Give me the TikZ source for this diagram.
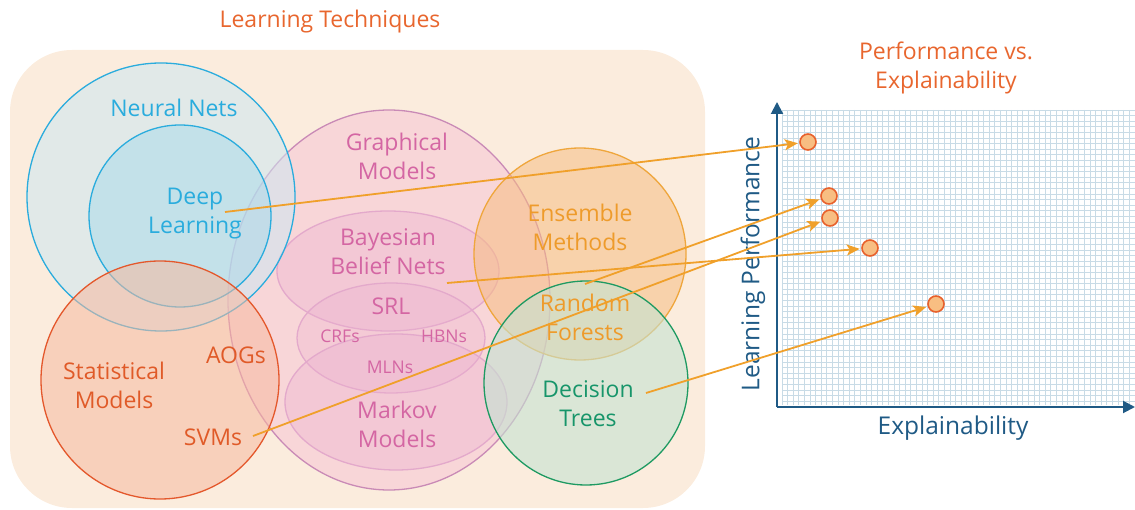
\documentclass[tikz,border=0pt]{standalone}
\usepackage{fontspec}
\setmainfont{Open Sans}
\usetikzlibrary{arrows.meta}
\definecolor{bgpeach}{HTML}{FBECDD}
\definecolor{nnstroke}{HTML}{2AACDD}
\definecolor{nnfill}{HTML}{CDE8F2}
\definecolor{dlfill}{HTML}{A6DAEB}
\definecolor{gmstroke}{HTML}{C98AB6}
\definecolor{gmfill}{HTML}{F6C8D6}
\definecolor{subfill}{HTML}{EBB0D0}
\definecolor{substroke}{HTML}{E3A9CB}
\definecolor{pinktext}{HTML}{D466A3}
\definecolor{ststroke}{HTML}{E4582C}
\definecolor{stfill}{HTML}{F7B9A0}
\definecolor{sttext}{HTML}{E05A28}
\definecolor{enstroke}{HTML}{EFA63C}
\definecolor{enfill}{HTML}{F7BE82}
\definecolor{entext}{HTML}{EE9B2B}
\definecolor{dtstroke}{HTML}{1E9A62}
\definecolor{dtfill}{HTML}{C4E3D2}
\definecolor{dttext}{HTML}{17956A}
\definecolor{titleorange}{HTML}{E8662E}
\definecolor{axisblue}{HTML}{1F5A85}
\definecolor{gridblue}{HTML}{C8DBE6}
\definecolor{arroworange}{HTML}{F0A02A}
\definecolor{dotfill}{HTML}{F8BE82}
\definecolor{dotstroke}{HTML}{E8612C}
\tikzset{
  lbl/.style={font=\fontsize{23}{29}\selectfont, align=center, inner sep=0pt},
  smalllbl/.style={font=\fontsize{17.5}{20}\selectfont, align=center, inner sep=0pt, text=pinktext},
  axislbl/.style={font=\fontsize{24.5}{29}\selectfont, inner sep=0pt, text=axisblue},
  dot/.style={circle, draw=dotstroke, fill=dotfill, line width=1.6pt, minimum size=16pt, inner sep=0pt},
  link/.style={draw=arroworange, line width=1.8pt, -{Stealth[length=13pt,width=11pt,inset=3pt]}, shorten >=1.5pt},
  axis/.style={draw=axisblue, line width=2pt, -{Triangle[length=12pt,width=12pt]}},
  venn/.style={line width=1.3pt}
}
\begin{document}
\begin{tikzpicture}[x=1pt,y=-1pt]
\useasboundingbox (0,0) rectangle (1135,510);
% background panel
\fill[bgpeach] (10,50) [rounded corners=62pt] -- (10,508) -- (705,508) -- (705,50) -- cycle;
% Venn shapes
\filldraw[venn, draw=gmstroke, fill=gmfill, fill opacity=0.6] (389,300) ellipse [x radius=161pt, y radius=190pt];
\filldraw[venn, draw=substroke, fill=subfill, fill opacity=0.35] (388,271) ellipse [x radius=111pt, y radius=60pt];
\filldraw[venn, draw=substroke, fill=subfill, fill opacity=0.3] (391,338) ellipse [x radius=94pt, y radius=55pt];
\filldraw[venn, draw=substroke, fill=subfill, fill opacity=0.35] (396,402) ellipse [x radius=111pt, y radius=68pt];
\filldraw[venn, draw=nnstroke, fill=nnfill, fill opacity=0.55] (161,197) circle [radius=134pt];
\filldraw[venn, draw=nnstroke, fill=dlfill, fill opacity=0.5] (180,216) circle [radius=91pt];
\filldraw[venn, draw=ststroke, fill=stfill, fill opacity=0.55] (160,380) circle [radius=119pt];
\filldraw[venn, draw=enstroke, fill=enfill, fill opacity=0.55] (580,254) circle [radius=106pt];
\filldraw[venn, draw=dtstroke, fill=dtfill, fill opacity=0.6] (586,383) circle [radius=102pt];
% titles
\node[lbl, text=titleorange] (ttl) at (330,22) {Learning Techniques};
\node[lbl, text=titleorange] (pvt) at (946,68) {Performance vs.\\Explainability};
% Venn labels
\node[lbl, text=nnstroke] (nn) at (174,108) {Neural Nets};
\node[lbl, text=nnstroke] (dl) at (195,214) {Deep\\Learning};
\node[lbl, text=pinktext] (gm) at (397,156) {Graphical\\Models};
\node[lbl, text=pinktext] (bbn) at (388,252) {Bayesian\\Belief Nets};
\node[lbl, text=pinktext] (srl) at (391,306) {SRL};
\node[smalllbl] (crf) at (340,336) {CRFs};
\node[smalllbl] (hbn) at (444,336) {HBNs};
\node[smalllbl] (mln) at (390,367) {MLNs};
\node[lbl, text=pinktext] (mm) at (397,424) {Markov\\Models};
\node[lbl, text=sttext] (aog) at (236,355) {AOGs};
\node[lbl, text=sttext] (sm) at (114,385) {Statistical\\Models};
\node[lbl, text=sttext] (svm) at (213,437) {SVMs};
\node[lbl, text=entext] (em) at (580,227) {Ensemble\\Methods};
\node[lbl, text=entext] (rf) at (585,317) {Random\\Forests};
\node[lbl, text=dttext] (dt) at (588,404) {Decision\\Trees};
% chart grid
\foreach \gx in {0,...,62} {
  \draw[gridblue, line width=0.7pt] (782+\gx*5.6,110) -- (782+\gx*5.6,405);
}
\foreach \gy in {0,...,52} {
  \draw[gridblue, line width=0.7pt] (782,110+\gy*5.6) -- (1135,110+\gy*5.6);
}
\coordinate (origin) at (777,407);
\coordinate (ytop) at (777,102);
\coordinate (xend) at (1135,407);
\draw[axis] (origin) -- (ytop);
\draw[axis] (origin) -- (xend);
\node[axislbl] (xl) at (953,428) {Explainability};
\node[axislbl, rotate=90] (yl) at (753,264) {Learning Performance};
% dots
\node[dot] (d1) at (808,142) {};
\node[dot] (d2) at (829,196) {};
\node[dot] (d3) at (830,218) {};
\node[dot] (d4) at (870,248) {};
\node[dot] (d5) at (936,304) {};
% connector starts
\coordinate (sdl) at (225,212);
\coordinate (sbbn) at (447,283);
\coordinate (srf) at (585,284);
\coordinate (ssvm) at (253,436);
\coordinate (sdt) at (646,393);
\draw[link] (sdl) -- (d1);
\draw[link] (sbbn) -- (d4);
\draw[link] (srf) -- (d2);
\draw[link] (ssvm) -- (d3);
\draw[link] (sdt) -- (d5);
\end{tikzpicture}
\end{document}
